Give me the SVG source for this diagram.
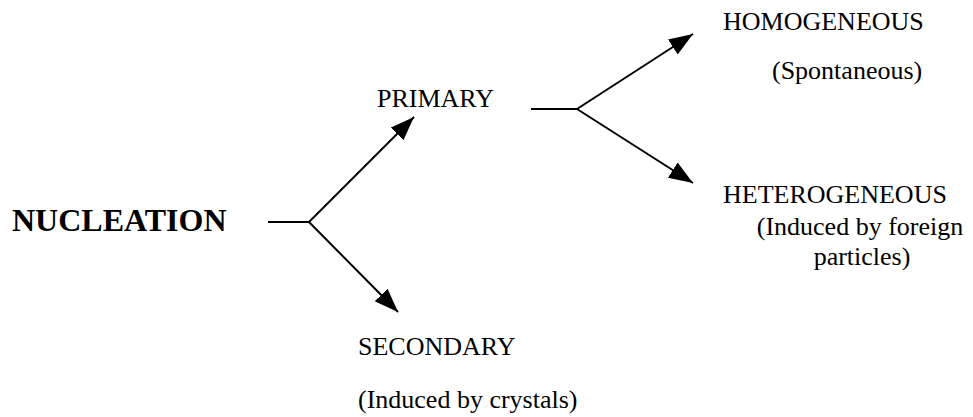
<svg xmlns="http://www.w3.org/2000/svg" width="973" height="417" viewBox="0 0 973 417">
  <style>
    .lbl { font-family: "Liberation Serif", "Times New Roman", serif; font-size: 26px; fill: #000; }
    .title { font-family: "Liberation Serif", "Times New Roman", serif; font-size: 32px; font-weight: bold; fill: #000; }
    .edge { stroke: #000; stroke-width: 2; fill: none; }
  </style>
  <defs>
    <marker id="arrow" markerUnits="userSpaceOnUse" markerWidth="26" markerHeight="20" refX="24" refY="9" orient="auto">
      <path d="M0,0 L24,9 L0,18 z" fill="#000"/>
    </marker>
  </defs>
  <rect width="973" height="417" fill="#fff"/>

  <g id="connectors">
    <!-- left fork -->
    <path class="edge" d="M268,222 L309,222"/>
    <path class="edge" d="M309,222 L414,117" marker-end="url(#arrow)"/>
    <path class="edge" d="M309,222 L398,312" marker-end="url(#arrow)"/>
    <!-- right fork -->
    <path class="edge" d="M531,109 L577,109"/>
    <path class="edge" d="M577,109 L693,34" marker-end="url(#arrow)"/>
    <path class="edge" d="M577,109 L693,183" marker-end="url(#arrow)"/>
  </g>

  <g id="nucleation">
    <text class="title" x="12" y="231">NUCLEATION</text>
  </g>
  <g id="primary">
    <text class="lbl" x="377" y="107">PRIMARY</text>
  </g>
  <g id="secondary">
    <text class="lbl" x="358" y="355">SECONDARY</text>
    <text class="lbl" x="358" y="408">(Induced by crystals)</text>
  </g>
  <g id="homogeneous">
    <text class="lbl" x="723" y="30">HOMOGENEOUS</text>
    <text class="lbl" x="772" y="79">(Spontaneous)</text>
  </g>
  <g id="heterogeneous">
    <text class="lbl" x="723" y="203">HETEROGENEOUS</text>
    <text class="lbl" x="860" y="235" text-anchor="middle">(Induced by foreign</text>
    <text class="lbl" x="862" y="265" text-anchor="middle">particles)</text>
  </g>
</svg>
